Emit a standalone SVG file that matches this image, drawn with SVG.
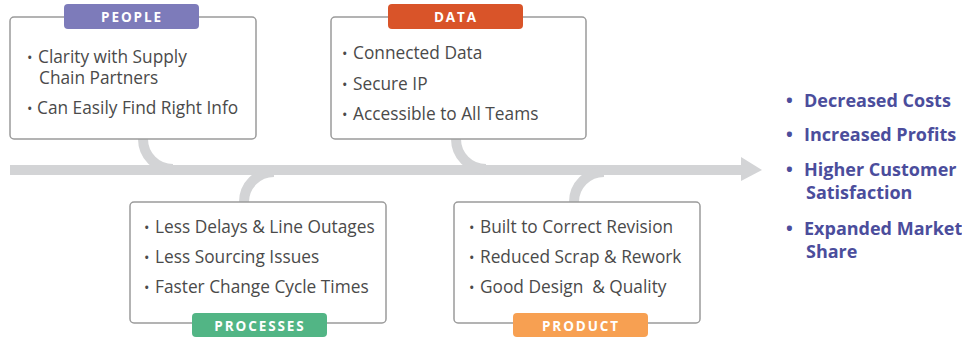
<svg xmlns="http://www.w3.org/2000/svg" width="962" height="339" viewBox="0 0 962 339">
<style>
.box{fill:#fff;stroke:#9b9b9b;stroke-width:1.5}
.bone{fill:none;stroke:#d3d4d6;stroke-width:10}
.t{font-family:"Open Sans","Noto Sans","Liberation Sans",sans-serif;font-size:17.3px;fill:#4a4a4a}
.b{font-size:14.5px}
.tab{font-family:"Open Sans","Noto Sans","Liberation Sans",sans-serif;font-size:13.5px;font-weight:700;fill:#fff;letter-spacing:1.9px;text-anchor:middle}
.r{font-family:"Open Sans","Noto Sans","Liberation Sans",sans-serif;font-size:18px;font-weight:700;fill:#4b4d9c}
</style>
<rect width="962" height="339" fill="#fff"/>
<g id="connectors">
<line class="bone" x1="10" y1="170" x2="743" y2="170"/>
<polygon points="741,157 762,170 741,181" fill="#d3d4d6"/>
<path class="bone" d="M143,139 A30,30 0 0 0 173,169"/>
<path class="bone" d="M244,202 A30,30 0 0 1 274,172"/>
<path class="bone" d="M456,139 A30,30 0 0 0 486,169"/>
<path class="bone" d="M574,202 A30,30 0 0 1 604,172"/>
</g>
<g id="people">
<rect class="box" x="10" y="17" width="246" height="122" rx="4"/>
<rect x="64" y="4" width="135" height="25" rx="4" fill="#7d7bba"/>
<text class="tab" x="132" y="22">PEOPLE</text>
<text class="t" y="63"><tspan class="b" x="27">•</tspan><tspan x="38">Clarity with Supply</tspan><tspan x="39" dy="21">Chain Partners</tspan></text>
<text class="t" y="114"><tspan class="b" x="27">•</tspan><tspan x="37">Can Easily Find Right Info</tspan></text>
</g>
<g id="data">
<rect class="box" x="331" y="17" width="255" height="122" rx="4"/>
<rect x="388" y="4" width="135" height="25" rx="4" fill="#d95429"/>
<text class="tab" x="456" y="22">DATA</text>
<text class="t" y="59"><tspan class="b" x="342">•</tspan><tspan x="353">Connected Data</tspan></text>
<text class="t" y="90"><tspan class="b" x="342">•</tspan><tspan x="353">Secure IP</tspan></text>
<text class="t" y="120"><tspan class="b" x="342">•</tspan><tspan x="353">Accessible to All Teams</tspan></text>
</g>
<g id="processes">
<rect class="box" x="130" y="202" width="256" height="121" rx="4"/>
<rect x="192" y="313" width="135" height="24" rx="4" fill="#52b585"/>
<text class="tab" x="260" y="331">PROCESSES</text>
<text class="t" y="233"><tspan class="b" x="144">•</tspan><tspan x="155">Less Delays &amp; Line Outages</tspan></text>
<text class="t" y="263"><tspan class="b" x="144">•</tspan><tspan x="155">Less Sourcing Issues</tspan></text>
<text class="t" y="293"><tspan class="b" x="144">•</tspan><tspan x="155">Faster Change Cycle Times</tspan></text>
</g>
<g id="product">
<rect class="box" x="454" y="202" width="246" height="121" rx="4"/>
<rect x="513" y="313" width="135" height="24" rx="4" fill="#f7a052"/>
<text class="tab" x="581" y="331">PRODUCT</text>
<text class="t" y="233"><tspan class="b" x="469">•</tspan><tspan x="480">Built to Correct Revision</tspan></text>
<text class="t" y="263"><tspan class="b" x="469">•</tspan><tspan x="480">Reduced Scrap &amp; Rework</tspan></text>
<text class="t" y="293"><tspan class="b" x="469">•</tspan><tspan x="480">Good Design&#160; &amp; Quality</tspan></text>
</g>
<g id="outcomes">
<text class="r" y="107"><tspan x="786">•</tspan><tspan x="804">Decreased Costs</tspan></text>
<text class="r" y="141"><tspan x="786">•</tspan><tspan x="804">Increased Profits</tspan></text>
<text class="r" y="176"><tspan x="786">•</tspan><tspan x="804">Higher Customer</tspan><tspan x="806" dy="23">Satisfaction</tspan></text>
<text class="r" y="235"><tspan x="786">•</tspan><tspan x="804">Expanded Market</tspan><tspan x="806" dy="23">Share</tspan></text>
</g>
</svg>
